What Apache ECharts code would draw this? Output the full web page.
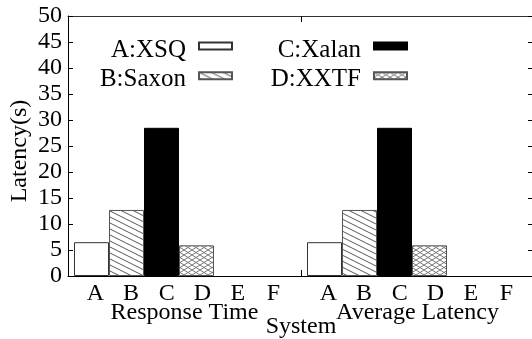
<!DOCTYPE html>
<html>
<head>
<meta charset="utf-8">
<script src="https://cdn.jsdelivr.net/npm/echarts@6.0.0/dist/echarts.min.js"></script>
<style>
html,body{margin:0;padding:0;background:#fff;}
#c{width:532px;height:339px;}
#probe{position:absolute;left:-1000px;top:0;font:24px "Liberation Serif";}
</style>
</head>
<body>
<span id="probe">Latency(s) ABC 0123</span>
<div id="c"></div>
<script>
// ---- data ----
const systems = ['A:XSQ', 'B:Saxon', 'C:Xalan', 'D:XXTF'];
const metrics = ['Response Time', 'Average Latency'];
const slotLetters = ['A', 'B', 'C', 'D', 'E', 'F'];
const responseTime = [6.5, 12.7, 28.5, 5.9];
const averageLatency = [6.5, 12.7, 28.5, 5.9];
const yMin = 0, yMax = 50, yStep = 5;

// ---- style helpers ----
const FONT = '"Liberation Serif", "Times New Roman", serif';
function makePattern(w, h, draw) {
  const cv = document.createElement('canvas');
  cv.width = w; cv.height = h;
  const ctx = cv.getContext('2d');
  ctx.fillStyle = '#fff';
  ctx.fillRect(0, 0, w, h);
  draw(ctx, w, h);
  return { image: cv, repeat: 'repeat' };
}
const hatch = makePattern(12, 6, (ctx, w, h) => {
  ctx.strokeStyle = '#555'; ctx.lineWidth = 1;
  [-h, 0, h].forEach(o => { ctx.beginPath(); ctx.moveTo(0, o); ctx.lineTo(w, o + h); ctx.stroke(); });
});
const cross = makePattern(8, 5, (ctx, w, h) => {
  ctx.strokeStyle = '#777'; ctx.lineWidth = 1;
  [-h, 0, h].forEach(o => {
    ctx.beginPath(); ctx.moveTo(0, o); ctx.lineTo(w, o + h); ctx.stroke();
    ctx.beginPath(); ctx.moveTo(0, o + h); ctx.lineTo(w, o); ctx.stroke();
  });
});
const styles = [
  { color: '#fff', borderColor: '#333', borderWidth: 1 },
  { color: hatch, borderColor: '#555', borderWidth: 1 },
  { color: '#000', borderColor: '#000', borderWidth: 1 },
  { color: cross, borderColor: '#555', borderWidth: 1 }
];

// layout within a group (fractions of the group width)
const groupOffset = 6 / 233;
const slotWidth = 35 / 233;
function slotCenter(g, j) { return g + groupOffset + slotWidth * (j + 0.5); }

const groupValues = [responseTime, averageLatency];
const series = systems.map((name, j) => ({
  name: name,
  type: 'bar',
  xAxisIndex: 0,
  yAxisIndex: 0,
  barWidth: 35,
  barGap: '-100%',
  itemStyle: styles[j],
  emphasis: { disabled: true },
  data: groupValues.map((vals, g) => [slotCenter(g, j), vals[j]])
}));

const txt = { fontFamily: FONT, fontSize: 24, color: '#000' };

const legends = systems.map((name, i) => ({
  data: [name],
  orient: 'horizontal',
  align: 'right',
  icon: 'rect',
  itemWidth: 33,
  itemHeight: 7,
  padding: 0,
  selectedMode: false,
  right: i < 2 ? 299 : 124,
  top: i % 2 === 0 ? 29.5 : 59.3,
  formatter: n => '{t|' + n + '}',
  textStyle: {
    fontFamily: FONT, fontSize: 25, color: '#000',
    rich: { t: { fontFamily: FONT, fontSize: 25, color: '#000', lineHeight: 25, padding: [8, 8, 0, 0] } }
  }
}));

const option = {
  animation: false,
  backgroundColor: '#fff',
  textStyle: { fontFamily: FONT },
  grid: { left: 68, right: -2, top: 16, bottom: 63, containLabel: false, outerBoundsMode: 'none' },
  legend: legends,
  xAxis: [
    { type: 'value', min: 0, max: 2, show: false },
    {
      type: 'category', data: metrics, position: 'bottom', boundaryGap: true,
      axisLine: { show: true, onZero: false, lineStyle: { color: '#000', width: 1 } },
      axisTick: { show: true, inside: true, length: 6, interval: 0, lineStyle: { color: '#000' } },
      axisLabel: {
        interval: 0, margin: 8,
        formatter: v => slotLetters.map(l => '{l|' + l + '}').join('') + '\n{n|' + v + '}',
        rich: {
          l: Object.assign({ width: 35.6, align: 'center', lineHeight: 19 }, txt),
          n: Object.assign({ lineHeight: 19 }, txt)
        }
      },
      splitLine: { show: false },
      name: 'System', nameLocation: 'middle', nameGap: 39, nameMoveOverlap: false,
      nameTextStyle: txt
    },
    {
      type: 'category', data: metrics, position: 'top', boundaryGap: true,
      axisLine: { show: true, onZero: false, lineStyle: { color: '#333', width: 1 } },
      axisTick: { show: true, inside: true, length: 6, interval: 0, lineStyle: { color: '#000' } },
      axisLabel: { show: false },
      splitLine: { show: false }
    }
  ],
  yAxis: [
    {
      type: 'value', min: yMin, max: yMax, interval: yStep, position: 'left',
      axisLine: { show: true, lineStyle: { color: '#000', width: 1 } },
      axisTick: { show: true, inside: true, length: 5, lineStyle: { color: '#000' } },
      axisLabel: Object.assign({ margin: 6 }, txt),
      splitLine: { show: false },
      name: 'Latency(s)', nameLocation: 'middle', nameGap: 36, nameRotate: 90, nameMoveOverlap: false,
      nameTextStyle: Object.assign({ padding: [0, 10, 0, 0] }, txt)
    },
    {
      type: 'value', min: yMin, max: yMax, interval: yStep, position: 'right',
      axisLine: { show: true, lineStyle: { color: '#000', width: 1 } },
      axisTick: { show: true, inside: true, length: 6, lineStyle: { color: '#000' } },
      axisLabel: { show: false },
      splitLine: { show: false }
    }
  ],
  series: series
};

function draw() {
  const chart = echarts.init(document.getElementById('c'));
  chart.setOption(option);
}
if (document.fonts && document.fonts.load) {
  document.fonts.load('24px "Liberation Serif"').then(draw, draw);
} else {
  draw();
}
</script>
</body>
</html>
